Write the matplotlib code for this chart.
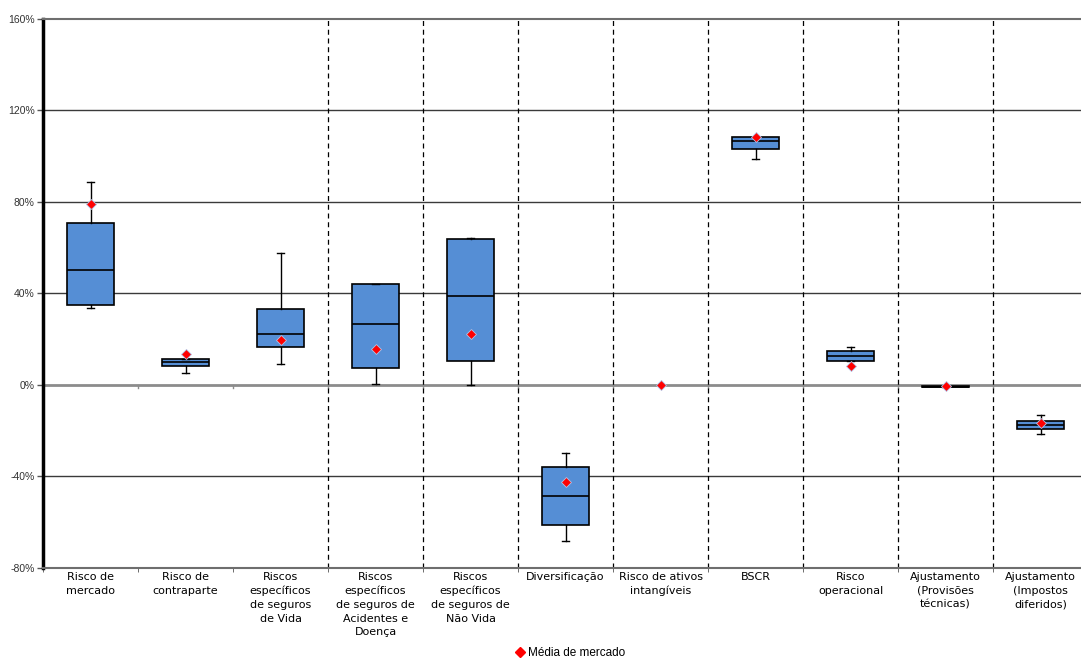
import numpy as np
import matplotlib
matplotlib.use("Agg")
import matplotlib.pyplot as plt
from matplotlib.lines import Line2D

plt.rcParams['font.family'] = ['DejaVu Sans']

# Solvency capital components, % of SCR
categories = [
    "Risco de\nmercado",
    "Risco de\ncontraparte",
    "Riscos\nespecíficos\nde seguros\nde Vida",
    "Riscos\nespecíficos\nde seguros de\nAcidentes e\nDoença",
    "Riscos\nespecíficos\nde seguros de\nNão Vida",
    "Diversificação",
    "Risco de ativos\nintangíveis",
    "BSCR",
    "Risco\noperacional",
    "Ajustamento\n(Provisões\ntécnicas)",
    "Ajustamento\n(Impostos\ndiferidos)",
]
whislo = [33.7, 5.1, 9.2, 0.4, 0.0, -68.1, np.nan, 98.8, 10.4, -0.9, -21.4]
q1 = [35.0, 8.3, 16.6, 7.3, 10.4, -61.3, np.nan, 103.0, 10.4, -0.9, -19.4]
med = [50.3, 9.9, 22.3, 26.7, 38.9, -48.5, np.nan, 106.7, 12.5, -0.7, -17.5]
q3 = [70.8, 11.5, 33.1, 44.0, 63.7, -35.7, np.nan, 108.5, 14.7, -0.6, -15.6]
whishi = [88.7, 11.5, 57.6, 44.1, 64.1, -29.6, np.nan, 108.5, 16.5, -0.6, -13.3]
mean = [79.1, 13.4, 19.5, 15.6, 22.2, -42.5, 0.0, 108.5, 8.2, -0.4, -16.8]
yticks = [-80, -40, 0, 40, 80, 120, 160]

fig = plt.figure(figsize=(10.81, 6.59), dpi=100)
# right edge runs past the figure, so the last column is cut off
ax = fig.add_axes([0.0398, 0.1381, 1.0065 - 0.0398, 0.9712 - 0.1381])

stats, pos = [], []
for i in range(len(categories)):
    if np.isnan(med[i]):
        continue
    stats.append(dict(whislo=whislo[i], q1=q1[i], med=med[i], q3=q3[i], whishi=whishi[i]))
    pos.append(i)

ax.bxp(stats, positions=pos, widths=0.5, capwidths=0.08, showfliers=False,
       patch_artist=True, manage_ticks=False,
       boxprops=dict(facecolor="#558ed5", edgecolor="black", linewidth=1.2),
       medianprops=dict(color="black", linewidth=1.2),
       whiskerprops=dict(color="black", linewidth=1.0),
       capprops=dict(color="black", linewidth=1.0), zorder=3)

ax.plot(range(len(categories)), mean, linestyle="none", marker="D", markersize=5.5,
        markerfacecolor="red", markeredgecolor="#b0c4e8", markeredgewidth=0.6, zorder=5)

ax.set_xlim(-0.5, len(categories) - 0.5)
ax.set_ylim(-80, 160)

# horizontal gridlines, zero line a bit heavier
for y in yticks:
    if y == 0:
        ax.axhline(y, color="#8c8c8c", linewidth=2.0, zorder=1)
    elif y in (-80, 160):
        continue
    else:
        ax.axhline(y, color="#3a3a3a", linewidth=1.0, zorder=1)

# small ticks on the zero line at column boundaries
for b in np.arange(1, len(categories)) - 0.5:
    ax.plot([b, b], [0, -1.2], color="#8c8c8c", linewidth=1.0, zorder=1)

# dashed separators between groups
for b in np.arange(3, len(categories)) - 0.5:
    ax.axvline(b, color="black", linestyle=(0, (4, 3)), linewidth=0.9, zorder=2)

ax.set_yticks(yticks)
ax.set_yticklabels([f"{v}%" for v in yticks], fontsize=7.5, color="#333333",
                   family="Liberation Sans")
ax.set_xticks(range(len(categories)))
ax.set_xticklabels(categories, fontsize=8, linespacing=1.45, va="top")
ax.set_xticks(np.arange(len(categories) + 1) - 0.5, minor=True)
ax.tick_params(axis="x", which="major", length=0, pad=3)
ax.tick_params(axis="x", which="minor", length=3, color="#555555")
ax.tick_params(axis="y", length=4, width=1, color="#555555", pad=2)

ax.spines["left"].set_linewidth(2.5)
ax.spines["left"].set_color("black")
for s in ("top", "bottom"):
    ax.spines[s].set_color("#6e6e6e")
    ax.spines[s].set_linewidth(1.5)
ax.spines["right"].set_visible(False)

handle = Line2D([], [], linestyle="none", marker="D", markersize=5.5,
                markerfacecolor="red", markeredgecolor="red")
fig.legend([handle], ["Média de mercado"], loc="center", bbox_to_anchor=(0.527, 0.009),
           frameon=False, handletextpad=0.1, handlelength=1.0,
           prop=dict(family="Liberation Sans", size=8.5))

fig.savefig("out.png", dpi=100)
